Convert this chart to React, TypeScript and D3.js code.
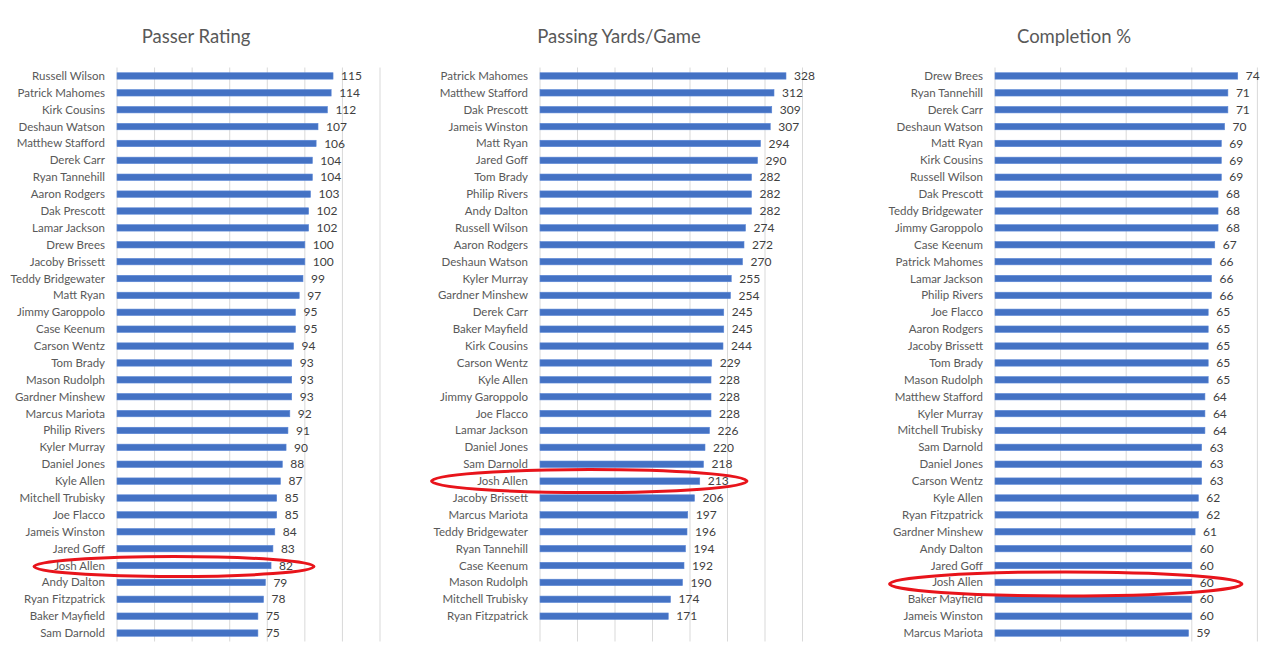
import React from "react";
import * as d3 from "d3";

const ratingNames = ["Russell Wilson","Patrick Mahomes","Kirk Cousins","Deshaun Watson","Matthew Stafford","Derek Carr","Ryan Tannehill","Aaron Rodgers","Dak Prescott","Lamar Jackson","Drew Brees","Jacoby Brissett","Teddy Bridgewater","Matt Ryan","Jimmy Garoppolo","Case Keenum","Carson Wentz","Tom Brady","Mason Rudolph","Gardner Minshew","Marcus Mariota","Philip Rivers","Kyler Murray","Daniel Jones","Kyle Allen","Mitchell Trubisky","Joe Flacco","Jameis Winston","Jared Goff","Josh Allen","Andy Dalton","Ryan Fitzpatrick","Baker Mayfield","Sam Darnold"];
const ratingValues = [115,114,112,107,106,104,104,103,102,102,100,100,99,97,95,95,94,93,93,93,92,91,90,88,87,85,85,84,83,82,79,78,75,75];

const yardsNames = ["Patrick Mahomes","Matthew Stafford","Dak Prescott","Jameis Winston","Matt Ryan","Jared Goff","Tom Brady","Philip Rivers","Andy Dalton","Russell Wilson","Aaron Rodgers","Deshaun Watson","Kyler Murray","Gardner Minshew","Derek Carr","Baker Mayfield","Kirk Cousins","Carson Wentz","Kyle Allen","Jimmy Garoppolo","Joe Flacco","Lamar Jackson","Daniel Jones","Sam Darnold","Josh Allen","Jacoby Brissett","Marcus Mariota","Teddy Bridgewater","Ryan Tannehill","Case Keenum","Mason Rudolph","Mitchell Trubisky","Ryan Fitzpatrick"];
const yardsValues = [328,312,309,307,294,290,282,282,282,274,272,270,255,254,245,245,244,229,228,228,228,226,220,218,213,206,197,196,194,192,190,174,171];

const completionNames = ["Drew Brees","Ryan Tannehill","Derek Carr","Deshaun Watson","Matt Ryan","Kirk Cousins","Russell Wilson","Dak Prescott","Teddy Bridgewater","Jimmy Garoppolo","Case Keenum","Patrick Mahomes","Lamar Jackson","Philip Rivers","Joe Flacco","Aaron Rodgers","Jacoby Brissett","Tom Brady","Mason Rudolph","Matthew Stafford","Kyler Murray","Mitchell Trubisky","Sam Darnold","Daniel Jones","Carson Wentz","Kyle Allen","Ryan Fitzpatrick","Gardner Minshew","Andy Dalton","Jared Goff","Josh Allen","Baker Mayfield","Jameis Winston","Marcus Mariota"];
const completionValues = [74,71,71,70,69,69,69,68,68,68,67,66,66,66,65,65,65,65,65,64,64,64,63,63,63,62,62,61,60,60,60,60,60,59];

const titles = ["Passer Rating", "Passing Yards/Game", "Completion %"];
const axisMax = [140, 350, 80];
const tickStep = [20, 50, 20];
const highlight = "Josh Allen";

const ROWS = 34;
const W = 1280, H = 665;
const TOP = 67.5, BOTTOM = 641.5;
const FONT = "Lato, 'Open Sans', sans-serif";

const layout = [
  { x0: 117, x1: 380, titleX: 196, ell: { left: 34, right: 314, dy: 1, ry: 10 } },
  { x0: 540, x1: 802.5, titleX: 619, ell: { left: 431.5, right: 747, dy: 0, ry: 11.5 } },
  { x0: 995, x1: 1257.4, titleX: 1074, ell: { left: 889.5, right: 1242, dy: 1.5, ry: 12 } },
];

const panels = [
  { names: ratingNames, values: ratingValues },
  { names: yardsNames, values: yardsValues },
  { names: completionNames, values: completionValues },
];

function Panel({ i }: { i: number }) {
  const { names, values } = panels[i];
  const L = layout[i];
  const x = d3.scaleLinear().domain([0, axisMax[i]]).range([L.x0, L.x1]);
  const y = d3.scaleBand<number>().domain(d3.range(ROWS)).range([TOP, BOTTOM]).paddingInner(0.62).paddingOuter(0.31);
  const ticks = d3.range(0, axisMax[i] + 0.001, tickStep[i]);
  const bw = y.bandwidth();
  const hi = names.indexOf(highlight);
  const hiY = (y(hi) as number) + bw / 2;
  return (
    <g>
      <text x={L.titleX} y={43} textAnchor="middle" fontFamily={FONT} fontSize={18.5} fill="#595959">{titles[i]}</text>
      {ticks.map((t) => (
        <line key={t} x1={x(t)} x2={x(t)} y1={TOP} y2={BOTTOM} stroke="#d9d9d9" strokeWidth={1} />
      ))}
      {names.map((n, k) => {
        const yy = y(k) as number;
        return (
          <g key={n}>
            <rect x={x(0)} y={yy} width={x(values[k]) - x(0)} height={bw} fill="#4472C4" stroke="#5a86d6" strokeWidth={0.6} />
            <text x={x(0) - 12} y={yy + bw / 2} dy="0.35em" textAnchor="end" fontFamily={FONT} fontSize={11.5} fill="#595959">{n}</text>
            <text x={x(values[k]) + 8} y={yy + bw / 2} dy="0.35em" textAnchor="start" fontFamily={FONT} fontSize={12} fill="#404040">{values[k]}</text>
          </g>
        );
      })}
      <ellipse cx={(L.ell.left + L.ell.right) / 2} cy={hiY + L.ell.dy} rx={(L.ell.right - L.ell.left) / 2} ry={L.ell.ry} fill="none" stroke="#e8141b" strokeWidth={3} />
    </g>
  );
}

export default function App() {
  return (
    <svg width={W} height={H} style={{ position: "absolute", left: 0, top: 0, background: "#fff" }}>
      <rect width={W} height={H} fill="#fff" />
      {[0, 1, 2].map((i) => <Panel key={i} i={i} />)}
    </svg>
  );
}
